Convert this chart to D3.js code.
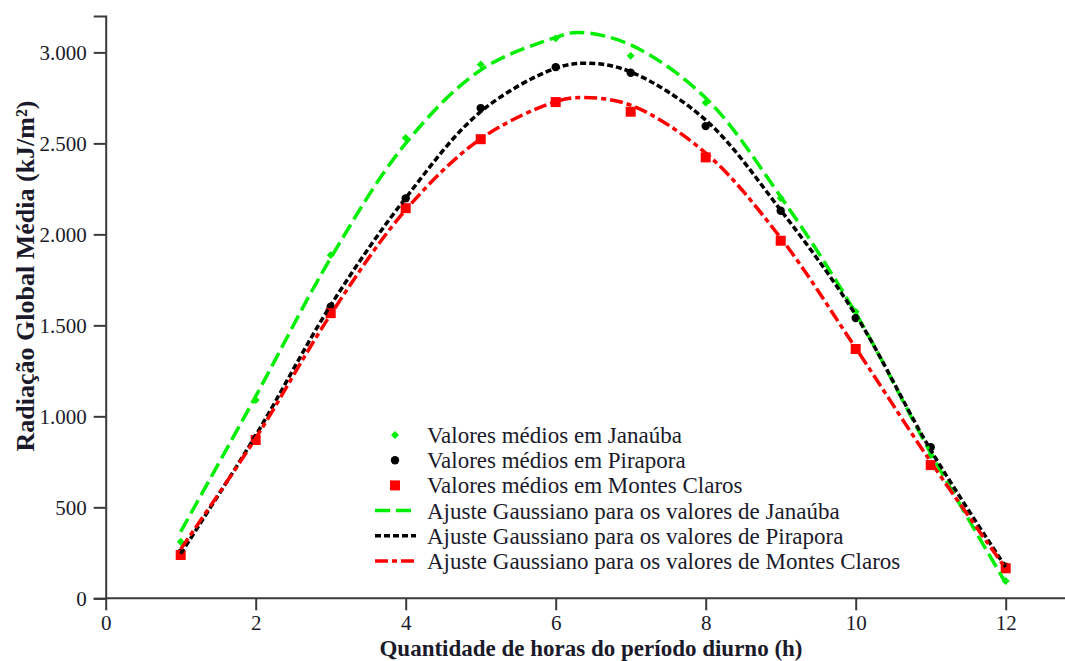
<!DOCTYPE html>
<html>
<head>
<meta charset="utf-8">
<script src="https://cdn.jsdelivr.net/npm/d3@7"></script>
<style>
  body { margin: 0; background: #fff; }
  text { font-family: "Liberation Serif", "Times New Roman", serif; fill: #1a1a2a; }
</style>
</head>
<body>
<div id="chart"></div>
<script>
// hours of the day (observed points)
var hours = [1, 2, 3, 4, 5, 6, 7, 8, 9, 10, 11, 12];

// mean values (kJ/m2)
var janauba    = [311, 1090, 1886, 2530, 2934, 3077, 2981, 2723, 2199, 1575, 787, 95];
var pirapora   = [249, 880, 1602, 2198, 2694, 2919, 2888, 2595, 2130, 1540, 830, 174];
var montesClaros = [238, 870, 1567, 2144, 2523, 2727, 2674, 2423, 1965, 1370, 732, 165];

// gaussian fit curves, read at the integer hours plus the peak
var fitJanauba = [[1, 366], [2, 1110], [3, 1870], [4, 2500], [5, 2903], [6, 3082], [6.3, 3110],
                  [7, 3041], [8, 2749], [9, 2207], [10, 1567], [11, 798], [12, 84]];
var fitPirapora = [[1, 245], [2, 895], [3, 1610], [4, 2200], [5, 2674], [6, 2913], [6.45, 2940],
                   [7, 2893], [8, 2628], [9, 2133], [10, 1557], [11, 815], [12, 172]];
var fitMontesClaros = [[1, 270], [2, 880], [3, 1560], [4, 2134], [5, 2525], [6, 2730], [6.35, 2752],
                       [7, 2710], [8, 2447], [9, 1980], [10, 1375], [11, 750], [12, 165]];

var xTicks = [0, 2, 4, 6, 8, 10, 12];
var yTicks = [0, 500, 1000, 1500, 2000, 2500, 3000];

var legendLabels = [
  "Valores médios em Janaúba",
  "Valores médios em Pirapora",
  "Valores médios em Montes Claros",
  "Ajuste Gaussiano para os valores de Janaúba",
  "Ajuste Gaussiano para os valores de Pirapora",
  "Ajuste Gaussiano para os valores de Montes Claros"
];

var width = 1065, height = 661;
var green = "#00ee00", black = "#000000", red = "#ff0000";
var axisColor = "#3a3a3a";

var svg = d3.select("#chart").append("svg")
  .attr("width", width)
  .attr("height", height);

var x = d3.scaleLinear().domain([0, 12.8]).range([105.7, 1065.7]);
var y = d3.scaleLinear().domain([0, 3200]).range([598.3, 16]);

var locale = d3.formatLocale({ decimal: ",", thousands: ".", grouping: [3], currency: ["R$", ""] });
var fmt = locale.format(",d");

// x axis
var xAxis = svg.append("g").attr("transform", "translate(0," + y(0) + ")");
xAxis.call(d3.axisBottom(x).tickValues(d3.range(0, 12.6, 0.5)).tickSize(6).tickFormat(""));
xAxis.call(d3.axisBottom(x).tickValues(xTicks).tickSize(12).tickPadding(5).tickFormat(d3.format("d")));
xAxis.attr("font-family", null).attr("font-size", null);
xAxis.selectAll("path.domain").attr("d", "M" + x(0) + ",0H" + width);
xAxis.selectAll("line, path").attr("stroke", axisColor).attr("stroke-width", 2);
xAxis.selectAll("text").attr("font-size", 21).attr("fill", null);

// y axis
var yAxis = svg.append("g").attr("transform", "translate(" + x(0) + ",0)");
yAxis.call(d3.axisLeft(y).tickValues(d3.range(0, 3201, 100)).tickSize(6).tickFormat(""));
yAxis.call(d3.axisLeft(y).tickValues(yTicks).tickSize(12).tickPadding(7).tickFormat(fmt));
yAxis.attr("font-family", null).attr("font-size", null);
yAxis.selectAll("line, path").attr("stroke", axisColor).attr("stroke-width", 2);
yAxis.selectAll("text").attr("font-size", 21).attr("fill", null);

// axis titles
svg.append("text")
  .attr("x", 591).attr("y", 656)
  .attr("text-anchor", "middle")
  .attr("font-size", 23).attr("font-weight", "bold")
  .text("Quantidade de horas do período diurno (h)");

svg.append("text")
  .attr("transform", "translate(34,276) rotate(-90)")
  .attr("text-anchor", "middle")
  .attr("font-size", 26).attr("font-weight", "bold")
  .text("Radiação Global Média (kJ/m²)");

// markers
var diamond = d3.symbol().type(d3.symbolDiamond2).size(40);
var circle = d3.symbol().type(d3.symbolCircle).size(55);
var square = d3.symbol().type(d3.symbolSquare).size(100);

function drawPoints(values, sym, color) {
  svg.append("g").selectAll("path")
    .data(values).enter()
    .append("path")
      .attr("d", sym)
      .attr("transform", function(d, i) { return "translate(" + x(hours[i]) + "," + y(d) + ")"; })
      .attr("fill", color);
}
drawPoints(janauba, diamond, green);
drawPoints(pirapora, circle, black);
drawPoints(montesClaros, square, red);

// fit lines
var line = d3.line()
  .x(function(d) { return x(d[0]); })
  .y(function(d) { return y(d[1]); })
  .curve(d3.curveCatmullRom.alpha(0.5));

var styles = [
  { color: green, dash: "15,6" },
  { color: black, dash: "6,3" },
  { color: red, dash: "13,4,5,4" }
];

[fitJanauba, fitPirapora, fitMontesClaros].forEach(function(data, i) {
  svg.append("path")
    .datum(data)
    .attr("d", line)
    .attr("fill", "none")
    .attr("stroke", styles[i].color)
    .attr("stroke-width", 3.5)
    .attr("stroke-dasharray", styles[i].dash);
});

// legend
var legend = svg.append("g").attr("transform", "translate(0,435)");
var rowGap = 25.2;
var markerSyms = [diamond, circle, square];
legendLabels.forEach(function(label, i) {
  var row = legend.append("g").attr("transform", "translate(0," + (i * rowGap) + ")");
  if (i < 3) {
    row.append("path")
      .attr("d", markerSyms[i])
      .attr("transform", "translate(395,0)")
      .attr("fill", styles[i].color);
  } else {
    row.append("line")
      .attr("x1", 375).attr("x2", 416)
      .attr("y1", 0).attr("y2", 0)
      .attr("stroke", styles[i - 3].color)
      .attr("stroke-width", 3.5)
      .attr("stroke-dasharray", styles[i - 3].dash);
  }
  row.append("text")
    .attr("x", 427).attr("y", 8)
    .attr("font-size", 23)
    .text(label);
});
</script>
</body>
</html>
